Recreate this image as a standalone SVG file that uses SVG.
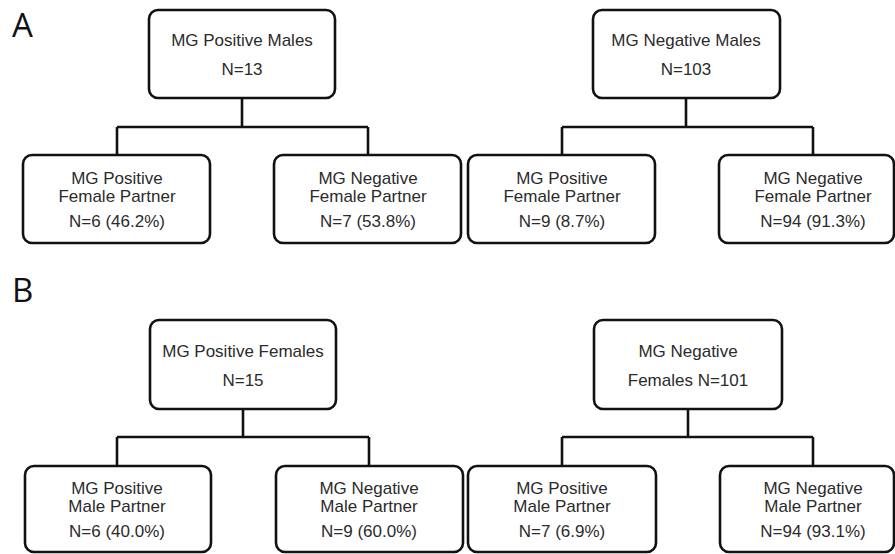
<svg xmlns="http://www.w3.org/2000/svg" width="895" height="554" viewBox="0 0 895 554">
<style>
.box{fill:#fff;stroke:#111;stroke-width:2.6}
.t{font-family:"Liberation Sans",Arial,sans-serif;font-size:17px;fill:#2b2b2b;text-anchor:middle}
.lbl{font-family:"Open Sans","DejaVu Sans",sans-serif;font-size:33px;fill:#111}
.con{fill:none;stroke:#111;stroke-width:2.6}
</style>
<rect width="895" height="554" fill="#fff"/>
<text class="lbl" x="12" y="37">A</text>
<text class="lbl" x="12" y="302">B</text>
<g id="connectors">
<path class="con" d="M242 98 V127 M117 127 H368 M117 127 V155 M368 127 V155"/>
<path class="con" d="M686 98 V127 M562 127 H813 M562 127 V155 M813 127 V155"/>
<path class="con" d="M243 409 V437 M117 437 H369 M117 437 V466 M369 437 V466"/>
<path class="con" d="M688 409 V437 M562 437 H813 M562 437 V466 M813 437 V466"/>
</g>
<g id="a-pos-males"><rect class="box" x="149" y="10" width="186" height="88" rx="9"/>
<text class="t" x="242" y="46">MG Positive Males</text><text class="t" x="242" y="75">N=13</text></g>
<g id="a-neg-males"><rect class="box" x="593" y="10" width="187" height="88" rx="9"/>
<text class="t" x="686" y="46">MG Negative Males</text><text class="t" x="686" y="75">N=103</text></g>
<g id="a-pp"><rect class="box" x="23" y="155" width="187" height="88" rx="9"/>
<text class="t" x="117" y="184">MG Positive</text><text class="t" x="117" y="202">Female Partner</text><text class="t" x="117" y="227">N=6 (46.2%)</text></g>
<g id="a-pn"><rect class="box" x="274" y="155" width="187" height="88" rx="9"/>
<text class="t" x="368" y="184">MG Negative</text><text class="t" x="368" y="202">Female Partner</text><text class="t" x="368" y="227">N=7 (53.8%)</text></g>
<g id="a-np"><rect class="box" x="468" y="155" width="187" height="88" rx="9"/>
<text class="t" x="562" y="184">MG Positive</text><text class="t" x="562" y="202">Female Partner</text><text class="t" x="562" y="227">N=9 (8.7%)</text></g>
<g id="a-nn"><rect class="box" x="719" y="155" width="175" height="88" rx="9"/>
<text class="t" x="813" y="184">MG Negative</text><text class="t" x="813" y="202">Female Partner</text><text class="t" x="813" y="227">N=94 (91.3%)</text></g>
<g id="b-pos-females"><rect class="box" x="150" y="320" width="186" height="89" rx="9"/>
<text class="t" x="243" y="357">MG Positive Females</text><text class="t" x="243" y="386">N=15</text></g>
<g id="b-neg-females"><rect class="box" x="594" y="320" width="188" height="89" rx="9"/>
<text class="t" x="688" y="357">MG Negative</text><text class="t" x="688" y="386">Females N=101</text></g>
<g id="b-pp"><rect class="box" x="25" y="466" width="186" height="86" rx="9"/>
<text class="t" x="117" y="494">MG Positive</text><text class="t" x="117" y="512">Male Partner</text><text class="t" x="117" y="537">N=6 (40.0%)</text></g>
<g id="b-pn"><rect class="box" x="276" y="466" width="187" height="86" rx="9"/>
<text class="t" x="369" y="494">MG Negative</text><text class="t" x="369" y="512">Male Partner</text><text class="t" x="369" y="537">N=9 (60.0%)</text></g>
<g id="b-np"><rect class="box" x="468" y="466" width="188" height="86" rx="9"/>
<text class="t" x="562" y="494">MG Positive</text><text class="t" x="562" y="512">Male Partner</text><text class="t" x="562" y="537">N=7 (6.9%)</text></g>
<g id="b-nn"><rect class="box" x="720" y="466" width="174" height="86" rx="9"/>
<text class="t" x="813" y="494">MG Negative</text><text class="t" x="813" y="512">Male Partner</text><text class="t" x="813" y="537">N=94 (93.1%)</text></g>
</svg>
